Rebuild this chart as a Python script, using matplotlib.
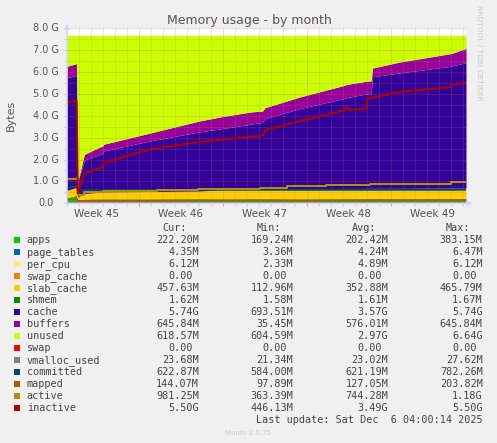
import numpy as np
import matplotlib
matplotlib.use('Agg')
import matplotlib.pyplot as plt
from matplotlib.patches import Rectangle
from matplotlib.transforms import blended_transform_factory

### data (values in GB, time in days from the left edge)
days = [0.0, 0.8, 0.9, 1.45, 2.75, 2.95, 3.05, 6.9, 11.0, 13.0, 15.25, 16.3, 16.5,
        19.4, 23.1, 23.3, 23.5, 24.95, 25.05, 25.35, 25.45, 27.75, 31.95, 32.05, 33.25]

apps = [0.25, 0.38, 0.17, 0.19, 0.20, 0.20, 0.20, 0.20, 0.21, 0.20, 0.21, 0.21, 0.21,
        0.20, 0.21, 0.21, 0.21, 0.22, 0.22, 0.22, 0.22, 0.21, 0.22, 0.22, 0.222]
page_tables = [0.006, 0.006, 0.004, 0.004, 0.004, 0.004, 0.004, 0.004, 0.004, 0.004, 0.004, 0.004, 0.004,
               0.004, 0.004, 0.004, 0.004, 0.004, 0.004, 0.004, 0.004, 0.004, 0.004, 0.004, 0.0044]
per_cpu = [0.003, 0.003, 0.002, 0.003, 0.003, 0.003, 0.003, 0.004, 0.004, 0.005, 0.005, 0.005, 0.005,
           0.005, 0.005, 0.005, 0.005, 0.005, 0.005, 0.006, 0.006, 0.006, 0.006, 0.006, 0.006]
slab_cache = [0.33, 0.34, 0.11, 0.25, 0.30, 0.30, 0.31, 0.33, 0.34, 0.42, 0.43, 0.43, 0.43,
              0.44, 0.45, 0.45, 0.45, 0.45, 0.45, 0.45, 0.45, 0.46, 0.46, 0.46, 0.458]
shmem = [0.0016, 0.0016, 0.0016, 0.0016, 0.0016, 0.0016, 0.0016, 0.0016, 0.0016, 0.0016, 0.0016, 0.0016, 0.0016,
         0.0016, 0.0016, 0.0016, 0.0016, 0.0016, 0.0016, 0.0016, 0.0016, 0.0016, 0.0016, 0.0016, 0.0016]
cache = [5.16, 5.11, 0.69, 1.52, 1.73, 1.75, 1.87, 2.31, 2.70, 2.79, 2.96, 3.05, 3.22,
         3.68, 4.12, 4.16, 4.18, 4.32, 4.32, 4.34, 5.10, 5.28, 5.57, 5.58, 5.74]
buffers = [0.51, 0.55, 0.04, 0.27, 0.34, 0.34, 0.31, 0.36, 0.50, 0.55, 0.56, 0.52, 0.50,
           0.53, 0.60, 0.60, 0.60, 0.58, 0.58, 0.58, 0.40, 0.50, 0.58, 0.58, 0.646]
unused = [1.42, 1.29, 6.66, 5.44, 5.10, 5.08, 4.98, 4.47, 3.92, 3.71, 3.51, 3.46, 3.31,
          2.82, 2.29, 2.25, 2.23, 2.10, 2.10, 2.08, 1.50, 1.22, 0.84, 0.83, 0.60]

vmalloc_used = [0.027, 0.027, 0.022, 0.022, 0.023, 0.023, 0.023, 0.023, 0.023, 0.023, 0.023, 0.023, 0.023,
                0.023, 0.023, 0.023, 0.023, 0.023, 0.023, 0.023, 0.024, 0.024, 0.024, 0.024, 0.0237]
committed = [0.70, 0.78, 0.60, 0.59, 0.60, 0.60, 0.61, 0.61, 0.62, 0.62, 0.62, 0.62, 0.62,
             0.62, 0.62, 0.62, 0.62, 0.62, 0.62, 0.62, 0.62, 0.62, 0.62, 0.62, 0.623]
mapped = [0.18, 0.20, 0.10, 0.11, 0.12, 0.12, 0.12, 0.12, 0.13, 0.13, 0.13, 0.13, 0.13,
          0.13, 0.13, 0.13, 0.13, 0.13, 0.13, 0.14, 0.14, 0.14, 0.14, 0.14, 0.144]
inactive = [4.59, 4.71, 0.45, 1.37, 1.60, 1.62, 1.84, 2.47, 2.80, 2.92, 3.04, 3.10, 3.34,
            3.76, 4.25, 4.42, 4.27, 4.32, 4.79, 4.81, 4.82, 5.09, 5.32, 5.44, 5.50]
# active moves in stairs, so it gets its own times
active_days = [0.0, 0.85, 0.95, 1.45, 3.0, 7.5, 10.9, 16.1, 18.3, 21.6, 25.25, 28.0, 32.0, 33.25]
active = [1.13, 1.15, 0.36, 0.50, 0.55, 0.60, 0.65, 0.72, 0.77, 0.82, 0.86, 0.89, 0.96, 0.98]

week_labels = ['Week 45', 'Week 46', 'Week 47', 'Week 48', 'Week 49']
week_starts = [6, 13, 20, 27]
x_end = 33.25

names = ['apps', 'page_tables', 'per_cpu', 'swap_cache', 'slab_cache', 'shmem', 'cache', 'buffers',
         'unused', 'swap', 'vmalloc_used', 'committed', 'mapped', 'active', 'inactive']
colors = ['#00CC00', '#0066B3', '#FFE680', '#FF8000', '#FFCC00', '#008F00', '#330099', '#990099',
          '#CCFF00', '#FF0000', '#808080', '#00487D', '#B35A00', '#B38F00', '#B30000']
cur = ['222.20M', '4.35M', '6.12M', '0.00', '457.63M', '1.62M', '5.74G', '645.84M',
       '618.57M', '0.00', '23.68M', '622.87M', '144.07M', '981.25M', '5.50G']
mins = ['169.24M', '3.36M', '2.33M', '0.00', '112.96M', '1.58M', '693.51M', '35.45M',
        '604.59M', '0.00', '21.34M', '584.00M', '97.89M', '363.39M', '446.13M']
avgs = ['202.42M', '4.24M', '4.89M', '0.00', '352.88M', '1.61M', '3.57G', '576.01M',
        '2.97G', '0.00', '23.02M', '621.19M', '127.05M', '744.28M', '3.49G']
maxs = ['383.15M', '6.47M', '6.12M', '0.00', '465.79M', '1.67M', '5.74G', '645.84M',
        '6.64G', '0.00', '27.62M', '782.26M', '203.82M', '1.18G', '5.50G']


def main():
    W, H = 497, 443
    fig = plt.figure(figsize=(W / 100, H / 100), dpi=100, facecolor='#F0F0F0')

    # graph canvas: x 67..466 px, y 28..203 px
    ax = fig.add_axes([67 / W, 1 - 203.3 / H, 399 / W, 175 / H])
    ax.set_facecolor('white')
    for s in ax.spines.values():
        s.set_visible(False)
    ax.set_xlim(0, x_end)
    ax.set_ylim(0, 8.0)

    stack = [(apps, '#00CC00'), (page_tables, '#0066B3'), (per_cpu, '#FFE680'),
             (slab_cache, '#FFCC00'), (shmem, '#008F00'), (cache, '#330099'),
             (buffers, '#990099'), (unused, '#CCFF00')]
    bottom = np.zeros(len(days))
    for vals, c in stack:
        top = bottom + np.array(vals)
        ax.fill_between(days, bottom, top, color=c, lw=0, zorder=1)
        bottom = top

    # faint dotted grid drawn over the areas
    minor_c = (0.56, 0.56, 0.56, 0.4)
    major_c = (0.87, 0.31, 0.31, 0.45)
    dots = (0, (1, 1))
    kw = dict(lw=0.72, ls=dots, zorder=2)
    for d in range(0, 34):
        if d in week_starts:
            continue
        ax.axvline(d, color=minor_c, **kw)
    for d in week_starts:
        ax.axvline(d, color=major_c, **kw)
    for k in range(17):
        ax.axhline(k * 0.5, color=major_c if k % 2 == 0 else minor_c, **kw)

    lw = 1.45
    ax.plot(days, vmalloc_used, color='#808080', lw=lw, zorder=3)
    ax.plot(days, committed, color='#00487D', lw=lw, zorder=3)
    ax.plot(days, mapped, color='#B35A00', lw=lw, zorder=3)
    ax.plot(active_days, active, color='#B38F00', lw=lw, drawstyle='steps-post', zorder=3)
    ax.plot(days, inactive, color='#B30000', lw=lw, zorder=3)

    ax.set_xticks(week_starts)
    ax.set_xticks(range(0, 34), minor=True)
    ax.set_yticks(np.arange(0, 8.01, 0.5))
    ax.tick_params(axis='both', which='both', length=2, direction='out',
                   labelbottom=False, labelleft=False, color='#CCCCCC')
    ax.tick_params(axis='x', which='major', color=(0.87, 0.31, 0.31, 0.6))

    # y labels
    ty = blended_transform_factory(ax.transAxes, ax.transData)
    for k in range(9):
        lab = '0.0' if k == 0 else '%.1f G' % k
        xr = -0.0343 if k == 0 else -0.0193
        ax.text(xr, k, lab, transform=ty, ha='right', va='center',
                fontsize=7, color='#555555')
    # week labels centred inside each week
    tx = blended_transform_factory(ax.transData, ax.transAxes)
    for j, lab in enumerate(week_labels):
        ax.text(week_starts[0] - 3.5 + 7 * j, -0.062, lab, transform=tx, ha='center',
                va='center', fontsize=7.5, color='#555555')

    # overlay in pixel coordinates for titles, arrows and the legend table
    ov = fig.add_axes([0, 0, 1, 1])
    ov.set_xlim(0, W)
    ov.set_ylim(H, 0)
    ov.axis('off')

    arrow_c = '#CFD6F8'
    ov.annotate('', xy=(475, 203.3), xytext=(62, 203.3),
                arrowprops=dict(arrowstyle='-|>', color=arrow_c, lw=1, mutation_scale=7))
    ov.annotate('', xy=(67, 21), xytext=(67, 208),
                arrowprops=dict(arrowstyle='-|>', color=arrow_c, lw=1, mutation_scale=7))

    ov.text(249, 24, 'Memory usage - by month', ha='center', va='baseline',
            fontsize=9, color='#555555')
    ov.text(11, 115, 'Bytes', rotation=90, ha='center', va='center',
            fontsize=8, color='#555555')
    ov.text(479, 53, 'RRDTOOL / TOBI OETIKER', rotation=270, ha='center', va='center',
            fontsize=5.4, color='#C8C8C8')

    mono = 'DejaVu Sans Mono'
    fs = 7.25
    cw = 6.06
    col_right = [199.0, 293.3, 388.3, 482.7]
    txt_c = '#444444'
    for h, xr in zip(['Cur:', 'Min:', 'Avg:', 'Max:'], col_right):
        ov.text(xr - 2 * cw, 231, h, ha='right', va='baseline', family=mono,
                fontsize=fs, color=txt_c)
    for i, name in enumerate(names):
        yb = 243 + 12 * i
        ov.add_patch(Rectangle((14, yb - 6), 6, 6, facecolor=colors[i], edgecolor='none'))
        ov.text(26.7, yb, name, ha='left', va='baseline', family=mono, fontsize=fs, color=txt_c)
        for vals, xr in zip([cur, mins, avgs, maxs], col_right):
            v = vals[i]
            x = xr if v[-1] in 'MGk' else xr - cw
            ov.text(x, yb, v, ha='right', va='baseline', family=mono, fontsize=fs, color=txt_c)
    ov.text(482.7, 423, 'Last update: Sat Dec  6 04:00:14 2025', ha='right', va='baseline',
            family=mono, fontsize=fs, color=txt_c)
    ov.text(248, 435, 'Munin 2.0.75', ha='center', va='baseline', fontsize=5,
            color='#C8C8C8')

    plt.savefig('out.png', dpi=100, facecolor=fig.get_facecolor())


if __name__ == "__main__":
    main()
